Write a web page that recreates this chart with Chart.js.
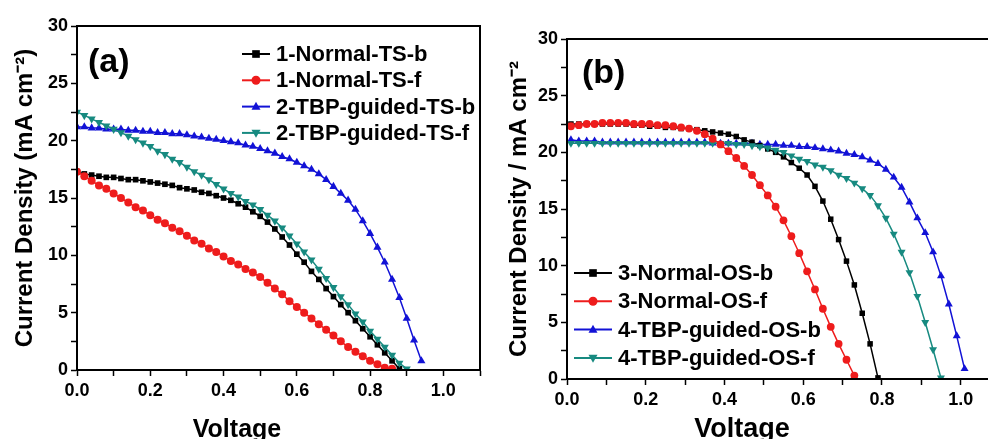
<!DOCTYPE html>
<html>
<head>
<meta charset="utf-8">
<script src="https://cdn.jsdelivr.net/npm/chart.js@4/dist/chart.umd.min.js"></script>
<style>
  body { margin: 0; background: #fff; width: 988px; height: 439px; overflow: hidden; position: relative; }
  canvas { position: absolute; top: 0; }
  #chartA { left: 0; }
  #chartB { left: 494px; }
</style>
</head>
<body>
<canvas id="chartA" width="490" height="439"></canvas>
<canvas id="chartB" width="520" height="439"></canvas>
<script>
// voltage grids (V)
const voltA = [0,0.02,0.04,0.06,0.08,0.10,0.12,0.14,0.16,0.18,0.20,0.22,0.24,0.26,0.28,0.30,0.32,0.34,0.36,0.38,
  0.40,0.42,0.44,0.46,0.48,0.50,0.52,0.54,0.56,0.58,0.60,0.62,0.64,0.66,0.68,0.70,0.72,0.74,0.76,0.78,
  0.80,0.82,0.84,0.86,0.88,0.90,0.92,0.94];
const voltB = [0.01,0.03,0.05,0.07,0.09,0.11,0.13,0.15,0.17,0.19,0.21,0.23,0.25,0.27,0.29,0.31,0.33,0.35,0.37,0.39,
  0.41,0.43,0.45,0.47,0.49,0.51,0.53,0.55,0.57,0.59,0.61,0.63,0.65,0.67,0.69,0.71,0.73,0.75,0.77,0.79,
  0.81,0.83,0.85,0.87,0.89,0.91,0.93,0.95,0.97,0.99,1.01];

// panel (a) current density, mA cm-2
const normalTSb = [17.3,17.1,17.0,16.9,16.8,16.8,16.7,16.6,16.6,16.5,16.4,16.3,16.2,16.1,15.9,15.8,15.7,15.5,15.4,15.2,
  15.0,14.8,14.5,14.2,13.8,13.4,12.9,12.3,11.6,10.9,10.1,9.4,8.6,7.9,7.1,6.4,5.7,5.0,4.3,3.6,
  2.9,2.2,1.5,0.8,0.1];
const normalTSf = [17.3,16.9,16.5,16.1,15.8,15.4,15.0,14.6,14.2,13.9,13.5,13.1,12.8,12.4,12.1,11.7,11.3,11.0,10.6,10.3,
  9.9,9.5,9.2,8.8,8.5,8.1,7.6,7.1,6.6,6.0,5.5,5.0,4.5,4.0,3.5,3.0,2.5,2.0,1.6,1.2,
  0.8,0.5,0.2,0.1];
const tbpTSb = [21.2,21.2,21.1,21.1,21.0,21.0,21.0,20.9,20.9,20.8,20.8,20.7,20.7,20.6,20.6,20.5,20.4,20.3,20.2,20.1,
  20.0,19.9,19.8,19.6,19.5,19.3,19.1,18.9,18.6,18.4,18.1,17.8,17.5,17.1,16.6,16.0,15.4,14.8,14.0,13.0,
  11.9,10.7,9.4,7.9,6.3,4.5,2.6,0.8];
const tbpTSf = [22.5,22.2,21.9,21.6,21.3,21.0,20.7,20.4,20.1,19.8,19.5,19.1,18.8,18.4,18.1,17.7,17.3,17.0,16.6,16.2,
  15.8,15.4,15.1,14.7,14.4,14.0,13.5,13.0,12.4,11.7,11.0,10.3,9.6,8.8,8.0,7.2,6.4,5.7,4.9,4.2,
  3.4,2.7,2.0,1.3,0.6,0.1];

// panel (b)
const normalOSb = [22.5,22.5,22.5,22.5,22.5,22.5,22.5,22.5,22.4,22.4,22.3,22.3,22.2,22.2,22.1,22.1,22.0,21.9,21.8,21.7,
  21.6,21.4,21.1,20.9,20.6,20.3,20.0,19.6,19.1,18.6,18.0,17.0,15.7,14.1,12.3,10.4,8.3,5.8,3.1,0.1];
const normalOSf = [22.3,22.4,22.5,22.5,22.6,22.6,22.6,22.6,22.5,22.5,22.5,22.4,22.4,22.3,22.2,22.1,21.9,21.6,21.2,20.7,
  20.1,19.5,18.8,18.0,17.1,16.2,15.2,14.0,12.6,11.1,9.5,7.9,6.2,4.6,3.1,1.7,0.3];
const tbpOSb = [21.1,21.0,21.0,21.0,20.9,20.9,20.9,20.9,20.9,20.9,20.9,20.9,20.9,20.9,20.9,20.9,20.9,20.9,20.8,20.8,
  20.8,20.8,20.8,20.8,20.7,20.7,20.7,20.6,20.6,20.5,20.5,20.4,20.3,20.2,20.1,19.9,19.8,19.6,19.3,19.0,
  18.5,17.8,16.9,15.6,14.2,12.9,11.2,9.1,6.6,3.8,0.9];
const tbpOSf = [20.8,20.8,20.8,20.8,20.8,20.8,20.8,20.8,20.8,20.8,20.8,20.8,20.8,20.8,20.8,20.8,20.8,20.8,20.8,20.8,
  20.8,20.7,20.7,20.6,20.5,20.4,20.2,20.0,19.7,19.4,19.2,18.9,18.7,18.4,18.0,17.7,17.3,16.8,16.2,15.3,
  14.2,12.8,11.2,9.4,7.3,5.0,2.6,0.1];

const labelsA = ['1-Normal-TS-b', '1-Normal-TS-f', '2-TBP-guided-TS-b', '2-TBP-guided-TS-f'];
const labelsB = ['3-Normal-OS-b', '3-Normal-OS-f', '4-TBP-guided-OS-b', '4-TBP-guided-OS-f'];
const colors = ['#000000', '#ee1c1c', '#1212d6', '#178a80'];
const styles = ['rect', 'circle', 'triangle', 'triangle'];
const rotations = [0, 0, 0, 180];

const FONT = '"Liberation Sans", Arial, sans-serif';

function pts(xs, ys) {
    return ys.map((y, i) => ({x: xs[i], y: y}));
}

function drawMarker(ctx, style, rot, r, x, y) {
    ctx.beginPath();
    if (style === 'rect') {
        ctx.rect(x - r * 0.85, y - r * 0.85, r * 1.7, r * 1.7);
    } else if (style === 'circle') {
        ctx.arc(x, y, r, 0, Math.PI * 2);
    } else {
        let s = rot ? -1 : 1;
        ctx.moveTo(x, y - s * r * 1.1);
        ctx.lineTo(x + r, y + s * r * 0.7);
        ctx.lineTo(x - r, y + s * r * 0.7);
        ctx.closePath();
    }
    ctx.fill();
}

// frame, panel tag, x title and legend
const deco = {
    id: 'deco',
    afterDraw(chart, args, o) {
        const ctx = chart.ctx;
        const a = chart.chartArea;
        ctx.save();
        ctx.strokeStyle = '#000';
        ctx.lineWidth = 2;
        ctx.strokeRect(a.left, a.top, a.right - a.left, a.bottom - a.top);

        ctx.fillStyle = '#000';
        ctx.font = 'bold 34px ' + FONT;
        ctx.textBaseline = 'middle';
        ctx.textAlign = 'left';
        ctx.fillText(o.tag, o.tagX, o.tagY);

        ctx.font = 'bold ' + o.xTitleSize + 'px ' + FONT;
        ctx.textAlign = 'center';
        ctx.textBaseline = 'alphabetic';
        ctx.fillText('Voltage', o.xTitleX, 437);

        ctx.font = 'bold ' + o.legSize + 'px ' + FONT;
        ctx.textAlign = 'left';
        ctx.textBaseline = 'middle';
        chart.data.datasets.forEach((ds, i) => {
            let y = o.legY + i * o.legDy;
            ctx.strokeStyle = ds.borderColor;
            ctx.lineWidth = 2;
            ctx.beginPath();
            ctx.moveTo(o.legX, y);
            ctx.lineTo(o.legX + o.legLen, y);
            ctx.stroke();
            ctx.fillStyle = ds.borderColor;
            drawMarker(ctx, ds.pointStyle, ds.pointRotation, 4.5, o.legX + o.legLen / 2, y);
            ctx.fillStyle = '#000';
            ctx.fillText(ds.label, o.legX + o.legLen + 6, y + 1);
        });
        ctx.restore();
    }
};

function makeDatasets(labels, series, xs, orders, r) {
    return series.map((ys, i) => ({
        label: labels[i],
        data: pts(xs, ys),
        showLine: true,
        borderColor: colors[i],
        backgroundColor: colors[i],
        borderWidth: 1.5,
        pointStyle: styles[i],
        pointRotation: rotations[i],
        pointRadius: styles[i] === 'triangle' ? r + 0.7 : r,
        pointBorderWidth: 0,
        order: orders[i]
    }));
}

function makeOptions(yTitle, yWidth, xHeight, pad, decoOpts) {
    return {
        responsive: false,
        animation: false,
        layout: {padding: pad},
        plugins: {legend: {display: false}, tooltip: {enabled: false}, deco: decoOpts},
        scales: {
            x: {
                type: 'linear', min: 0, max: 1.1,
                afterFit: s => { s.height = xHeight; },
                border: {color: '#000', width: 2},
                grid: {drawOnChartArea: false, color: '#000', tickLength: 6, tickWidth: 1.5},
                ticks: {
                    stepSize: 0.1, autoSkip: false, maxRotation: 0, color: '#000', padding: 4,
                    font: {family: FONT, size: 18, weight: 'bold'},
                    callback: v => {
                        let k = Math.round(v * 10);
                        return (k % 2 === 0 && k <= 10) ? (k / 10).toFixed(1) : '';
                    }
                }
            },
            y: {
                min: 0, max: 30,
                afterFit: s => { s.width = yWidth; },
                border: {color: '#000', width: 2},
                grid: {drawOnChartArea: false, color: '#000', tickLength: 6, tickWidth: 1.5},
                ticks: {
                    stepSize: 2.5, autoSkip: false, color: '#000', padding: 3,
                    font: {family: FONT, size: 18, weight: 'bold'},
                    callback: v => (v % 5 === 0 ? String(v) : '')
                },
                title: {
                    display: true, text: yTitle, color: '#000',
                    font: {family: FONT, size: 24, weight: 'bold'},
                    padding: {top: 11, bottom: 0}
                }
            }
        }
    };
}

new Chart(document.getElementById('chartA'), {
    type: 'scatter',
    data: {datasets: makeDatasets(labelsA, [normalTSb, normalTSf, tbpTSb, tbpTSf], voltA, [3, 2, 1, 0], 4)},
    options: makeOptions('Current Density (mA cm\u207B\u00B2)', 77, 69, {left: 0, top: 26, right: 10, bottom: 0},
        {tag: '(a)', tagX: 88, tagY: 63, xTitleX: 237, xTitleSize: 25,
         legX: 242, legY: 54, legDy: 26.3, legLen: 28, legSize: 22}),
    plugins: [deco]
});

new Chart(document.getElementById('chartB'), {
    type: 'scatter',
    data: {datasets: makeDatasets(labelsB, [normalOSb, normalOSf, tbpOSb, tbpOSf], voltB, [2, 0, 3, 1], 3.9)},
    options: makeOptions('Current Density / mA cm\u207B\u00B2', 73, 60, {left: 0, top: 39, right: 14, bottom: 0},
        {tag: '(b)', tagX: 88, tagY: 74, xTitleX: 248, xTitleSize: 27,
         legX: 80, legY: 273, legDy: 28.3, legLen: 38, legSize: 22}),
    plugins: [deco]
});
</script>
</body>
</html>
